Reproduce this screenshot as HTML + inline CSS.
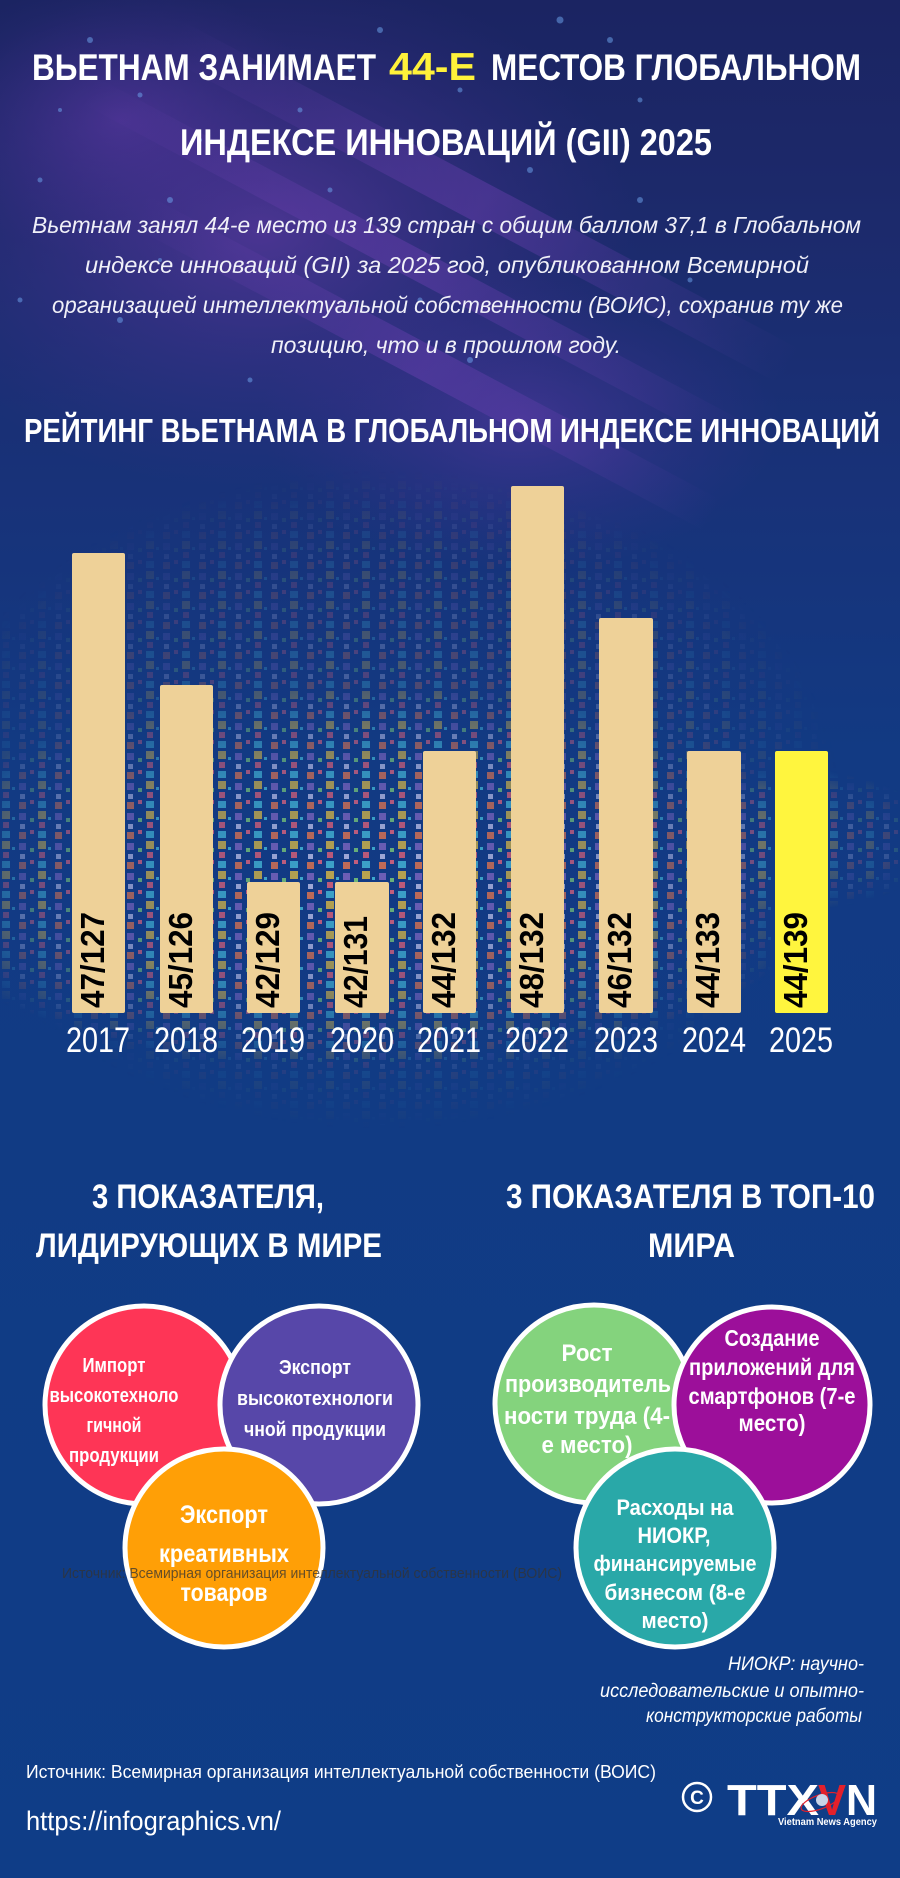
<!DOCTYPE html>
<html><head><meta charset="utf-8"><style>
html,body{margin:0;padding:0;background:#0f3d87;}
svg{display:block;}
text{font-family:"Liberation Sans","DejaVu Sans",sans-serif;}
</style></head><body>
<svg width="900" height="1878" viewBox="0 0 900 1878" xmlns="http://www.w3.org/2000/svg">
<defs>
<linearGradient id="bg" x1="0" y1="0" x2="0" y2="1">
<stop offset="0" stop-color="#1b2462"/>
<stop offset="0.12" stop-color="#1c2a6c"/>
<stop offset="0.26" stop-color="#183279"/>
<stop offset="0.4" stop-color="#123a83"/>
<stop offset="1" stop-color="#0f3d87"/>
</linearGradient>
<radialGradient id="purp" cx="0.5" cy="0.5" r="0.5">
<stop offset="0" stop-color="#7a40b8" stop-opacity="0.5"/>
<stop offset="0.6" stop-color="#5a35a0" stop-opacity="0.22"/>
<stop offset="1" stop-color="#4a2f95" stop-opacity="0"/>
</radialGradient>
<radialGradient id="purp2" cx="0.5" cy="0.5" r="0.5">
<stop offset="0" stop-color="#6a3bb0" stop-opacity="0.45"/>
<stop offset="1" stop-color="#4a2f95" stop-opacity="0"/>
</radialGradient>
<linearGradient id="streak" x1="0" y1="0" x2="1" y2="0">
<stop offset="0" stop-color="#7d45c0" stop-opacity="0"/>
<stop offset="0.5" stop-color="#7d45c0" stop-opacity="0.35"/>
<stop offset="1" stop-color="#7d45c0" stop-opacity="0"/>
</linearGradient>
<pattern id="dots" x="0" y="0" width="36" height="30" patternUnits="userSpaceOnUse">
<rect x="2" y="1" width="8" height="8" fill="#c0a84c"/>
<rect x="3" y="12" width="6" height="6" fill="#c85c78"/>
<rect x="2" y="21" width="8" height="7" fill="#3fa8cc"/>
<rect x="19" y="3" width="7" height="7" fill="#7260b8"/>
<rect x="20" y="14" width="5" height="5" fill="#a9b0dc"/>
<rect x="19" y="22" width="7" height="7" fill="#cc6e54"/>
<rect x="30" y="8" width="4" height="4" fill="#6fb878"/>
<rect x="30" y="20" width="4" height="4" fill="#d0607c"/>
<rect x="12" y="7" width="3" height="3" fill="#40b0d0"/>
</pattern>
<radialGradient id="dmaskg" cx="0.5" cy="0.5" r="0.5">
<stop offset="0" stop-color="#fff" stop-opacity="0.95"/>
<stop offset="0.6" stop-color="#fff" stop-opacity="0.6"/>
<stop offset="1" stop-color="#fff" stop-opacity="0"/>
</radialGradient>
<radialGradient id="dmaskg2" cx="0.5" cy="0.5" r="0.5">
<stop offset="0" stop-color="#fff" stop-opacity="0.45"/>
<stop offset="0.7" stop-color="#fff" stop-opacity="0.2"/>
<stop offset="1" stop-color="#fff" stop-opacity="0"/>
</radialGradient>
<mask id="dmask" maskUnits="userSpaceOnUse" x="0" y="0" width="900" height="1878">
<ellipse cx="380" cy="800" rx="460" ry="330" fill="url(#dmaskg2)"/>
<ellipse cx="360" cy="880" rx="470" ry="190" fill="url(#dmaskg)"/>
<ellipse cx="800" cy="840" rx="140" ry="70" fill="url(#dmaskg2)"/>
</mask>
</defs>

<rect x="0" y="0" width="900" height="1878" fill="url(#bg)"/>
<ellipse cx="260" cy="230" rx="380" ry="260" fill="url(#purp)"/>
<ellipse cx="520" cy="420" rx="260" ry="150" fill="url(#purp2)"/>
<ellipse cx="120" cy="120" rx="200" ry="140" fill="url(#purp2)"/>
<g transform="rotate(28 400 250)">
<rect x="100" y="150" width="700" height="40" fill="url(#streak)"/>
<rect x="50" y="240" width="750" height="30" fill="url(#streak)"/>
<rect x="150" y="320" width="650" height="35" fill="url(#streak)"/>
</g>
<!-- bokeh -->
<g fill="#6fa8f0" opacity="0.5">
<circle cx="90" cy="40" r="3"/><circle cx="140" cy="95" r="2.5"/><circle cx="230" cy="60" r="3"/>
<circle cx="300" cy="110" r="2.5"/><circle cx="380" cy="30" r="3"/><circle cx="460" cy="90" r="2.5"/>
<circle cx="560" cy="20" r="3.5"/><circle cx="610" cy="40" r="3"/><circle cx="640" cy="100" r="2.5"/>
<circle cx="40" cy="180" r="2.5"/><circle cx="170" cy="200" r="3"/><circle cx="330" cy="190" r="2.5"/>
<circle cx="530" cy="170" r="3"/><circle cx="590" cy="230" r="2.5"/><circle cx="640" cy="200" r="3"/>
<circle cx="20" cy="300" r="2.5"/><circle cx="120" cy="320" r="3"/><circle cx="420" cy="300" r="2.5"/>
<circle cx="690" cy="280" r="2.5"/><circle cx="250" cy="380" r="2.5"/><circle cx="470" cy="360" r="3"/>
<circle cx="60" cy="110" r="2"/><circle cx="200" cy="140" r="2"/><circle cx="350" cy="70" r="2"/>
<circle cx="500" cy="60" r="2"/><circle cx="270" cy="270" r="2"/><circle cx="160" cy="260" r="2"/>
<circle cx="80" cy="230" r="2"/><circle cx="400" cy="140" r="2"/><circle cx="560" cy="310" r="2"/>
</g>

<!-- pixel dots field -->
<rect x="0" y="440" width="900" height="720" fill="url(#dots)" mask="url(#dmask)"/>

<!-- Title -->
<g font-weight="bold" font-size="37">
<text x="32" y="80" fill="#ffffff" textLength="344" lengthAdjust="spacingAndGlyphs">ВЬЕТНАМ ЗАНИМАЕТ</text>
<text x="389" y="80" fill="#fff23a" textLength="87" lengthAdjust="spacingAndGlyphs" font-size="39">44-Е</text>
<text x="491" y="80" fill="#ffffff" textLength="370" lengthAdjust="spacingAndGlyphs">МЕСТОВ ГЛОБАЛЬНОМ</text>
<text x="180" y="155" fill="#ffffff" textLength="532" lengthAdjust="spacingAndGlyphs">ИНДЕКСЕ ИННОВАЦИЙ (GII) 2025</text>
</g>

<!-- Paragraph -->
<g font-style="italic" font-size="23" fill="#f0f0f8">
<text x="32" y="233" textLength="829" lengthAdjust="spacingAndGlyphs">Вьетнам занял 44-е место из 139 стран с общим баллом 37,1 в Глобальном</text>
<text x="85" y="273" textLength="724" lengthAdjust="spacingAndGlyphs">индексе инноваций (GII) за 2025 год, опубликованном Всемирной</text>
<text x="52" y="313" textLength="791" lengthAdjust="spacingAndGlyphs">организацией интеллектуальной собственности (ВОИС), сохранив ту же</text>
<text x="271" y="353" textLength="350" lengthAdjust="spacingAndGlyphs">позицию, что и в прошлом году.</text>
</g>

<!-- Chart heading -->
<text x="24" y="442" fill="#ffffff" font-weight="bold" font-size="33" textLength="856" lengthAdjust="spacingAndGlyphs">РЕЙТИНГ ВЬЕТНАМА В ГЛОБАЛЬНОМ ИНДЕКСЕ ИННОВАЦИЙ</text>

<!-- Bars -->
<g fill="#eed198">
<rect x="72" y="553" width="53" height="460" rx="2"/>
<rect x="160" y="685" width="53" height="328" rx="2"/>
<rect x="247" y="882" width="53" height="131" rx="2"/>
<rect x="335" y="882" width="54" height="131" rx="2"/>
<rect x="423" y="751" width="53" height="262" rx="2"/>
<rect x="511" y="486" width="53" height="527" rx="2"/>
<rect x="599" y="618" width="54" height="395" rx="2"/>
<rect x="687" y="751" width="54" height="262" rx="2"/>
</g>
<rect x="775" y="751" width="53" height="262" rx="2" fill="#fff53e"/>

<g font-weight="bold" font-size="33" fill="#000000">
<text transform="translate(104,1008) rotate(-90)" textLength="96" lengthAdjust="spacingAndGlyphs">47/127</text>
<text transform="translate(192,1008) rotate(-90)" textLength="96" lengthAdjust="spacingAndGlyphs">45/126</text>
<text transform="translate(279,1008) rotate(-90)" textLength="96" lengthAdjust="spacingAndGlyphs">42/129</text>
<text transform="translate(367,1008) rotate(-90)" textLength="92" lengthAdjust="spacingAndGlyphs">42/131</text>
<text transform="translate(455,1008) rotate(-90)" textLength="96" lengthAdjust="spacingAndGlyphs">44/132</text>
<text transform="translate(543,1008) rotate(-90)" textLength="96" lengthAdjust="spacingAndGlyphs">48/132</text>
<text transform="translate(631,1008) rotate(-90)" textLength="96" lengthAdjust="spacingAndGlyphs">46/132</text>
<text transform="translate(719,1008) rotate(-90)" textLength="96" lengthAdjust="spacingAndGlyphs">44/133</text>
<text transform="translate(807,1008) rotate(-90)" textLength="96" lengthAdjust="spacingAndGlyphs">44/139</text>
</g>

<g font-size="35" fill="#ffffff">
<text x="66" y="1052" textLength="64" lengthAdjust="spacingAndGlyphs">2017</text>
<text x="154" y="1052" textLength="64" lengthAdjust="spacingAndGlyphs">2018</text>
<text x="241" y="1052" textLength="64" lengthAdjust="spacingAndGlyphs">2019</text>
<text x="330" y="1052" textLength="64" lengthAdjust="spacingAndGlyphs">2020</text>
<text x="417" y="1052" textLength="64" lengthAdjust="spacingAndGlyphs">2021</text>
<text x="505" y="1052" textLength="64" lengthAdjust="spacingAndGlyphs">2022</text>
<text x="594" y="1052" textLength="64" lengthAdjust="spacingAndGlyphs">2023</text>
<text x="682" y="1052" textLength="64" lengthAdjust="spacingAndGlyphs">2024</text>
<text x="769" y="1052" textLength="64" lengthAdjust="spacingAndGlyphs">2025</text>
</g>

<!-- Section headings -->
<g font-weight="bold" font-size="34" fill="#ffffff">
<text x="92" y="1208" textLength="232" lengthAdjust="spacingAndGlyphs">3 ПОКАЗАТЕЛЯ,</text>
<text x="36" y="1257" textLength="346" lengthAdjust="spacingAndGlyphs">ЛИДИРУЮЩИХ В МИРЕ</text>
<text x="506" y="1208" textLength="369" lengthAdjust="spacingAndGlyphs">3 ПОКАЗАТЕЛЯ В ТОП-10</text>
<text x="648" y="1257" textLength="87" lengthAdjust="spacingAndGlyphs">МИРА</text>
</g>

<!-- Left circles -->
<circle cx="144" cy="1405" r="99" fill="#fe3556" stroke="#ffffff" stroke-width="5"/>
<g font-weight="bold" font-size="20" fill="#ffffff" text-anchor="middle">
<text x="114" y="1372" textLength="63" lengthAdjust="spacingAndGlyphs">Импорт</text>
<text x="114" y="1402" textLength="129" lengthAdjust="spacingAndGlyphs">высокотехноло</text>
<text x="114" y="1432" textLength="55" lengthAdjust="spacingAndGlyphs">гичной</text>
<text x="114" y="1462" textLength="90" lengthAdjust="spacingAndGlyphs">продукции</text>
</g>
<circle cx="319" cy="1405" r="99" fill="#5747a9" stroke="#ffffff" stroke-width="5"/>
<g font-weight="bold" font-size="20" fill="#ffffff" text-anchor="middle">
<text x="315" y="1374" textLength="72" lengthAdjust="spacingAndGlyphs">Экспорт</text>
<text x="315" y="1405" textLength="156" lengthAdjust="spacingAndGlyphs">высокотехнологи</text>
<text x="315" y="1436" textLength="142" lengthAdjust="spacingAndGlyphs">чной продукции</text>
</g>
<circle cx="224" cy="1548" r="99" fill="#ff9f06" stroke="#ffffff" stroke-width="5"/>
<g font-weight="bold" font-size="25" fill="#ffffff" text-anchor="middle">
<text x="224" y="1523" textLength="88" lengthAdjust="spacingAndGlyphs">Экспорт</text>
<text x="224" y="1562" textLength="130" lengthAdjust="spacingAndGlyphs">креативных</text>
<text x="224" y="1601" textLength="87" lengthAdjust="spacingAndGlyphs">товаров</text>
</g>

<!-- Right circles -->
<circle cx="594" cy="1404" r="99" fill="#84d37d" stroke="#ffffff" stroke-width="5"/>
<g font-weight="bold" font-size="24" fill="#ffffff" text-anchor="middle">
<text x="587" y="1361" textLength="51" lengthAdjust="spacingAndGlyphs">Рост</text>
<text x="588" y="1392" textLength="166" lengthAdjust="spacingAndGlyphs">производитель</text>
<text x="587" y="1424" textLength="166" lengthAdjust="spacingAndGlyphs">ности труда (4-</text>
<text x="587" y="1453" textLength="91" lengthAdjust="spacingAndGlyphs">е место)</text>
</g>
<circle cx="772" cy="1405" r="98" fill="#9c0f9a" stroke="#ffffff" stroke-width="5"/>
<g font-weight="bold" font-size="23" fill="#ffffff" text-anchor="middle">
<text x="772" y="1346" textLength="95" lengthAdjust="spacingAndGlyphs">Создание</text>
<text x="772" y="1375" textLength="166" lengthAdjust="spacingAndGlyphs">приложений для</text>
<text x="772" y="1404" textLength="167" lengthAdjust="spacingAndGlyphs">смартфонов (7-е</text>
<text x="772" y="1431" textLength="67" lengthAdjust="spacingAndGlyphs">место)</text>
</g>
<circle cx="675" cy="1548" r="99" fill="#29a8a8" stroke="#ffffff" stroke-width="5"/>
<g font-weight="bold" font-size="22" fill="#ffffff" text-anchor="middle">
<text x="675" y="1515" textLength="117" lengthAdjust="spacingAndGlyphs">Расходы на</text>
<text x="674" y="1543" textLength="73" lengthAdjust="spacingAndGlyphs">НИОКР,</text>
<text x="675" y="1571" textLength="163" lengthAdjust="spacingAndGlyphs">финансируемые</text>
<text x="675" y="1600" textLength="141" lengthAdjust="spacingAndGlyphs">бизнесом (8-е</text>
<text x="675" y="1628" textLength="67" lengthAdjust="spacingAndGlyphs">место)</text>
</g>

<text x="62" y="1578" font-size="15" fill="#333333" opacity="0.75" textLength="500" lengthAdjust="spacingAndGlyphs">Источник: Всемирная организация интеллектуальной собственности (ВОИС)</text>

<!-- Footnote -->
<g font-style="italic" font-size="19" fill="#ffffff" text-anchor="end">
<text x="864" y="1670" textLength="136" lengthAdjust="spacingAndGlyphs">НИОКР: научно-</text>
<text x="864" y="1697" textLength="264" lengthAdjust="spacingAndGlyphs">исследовательские и опытно-</text>
<text x="862" y="1722" textLength="216" lengthAdjust="spacingAndGlyphs">конструкторские работы</text>
</g>

<!-- Source and URL -->
<text x="26" y="1778" font-size="18" fill="#ffffff" textLength="630" lengthAdjust="spacingAndGlyphs">Источник: Всемирная организация интеллектуальной собственности (ВОИС)</text>
<text x="26" y="1830" font-size="27" fill="#ffffff" textLength="255" lengthAdjust="spacingAndGlyphs">https://infographics.vn/</text>

<!-- Logo -->
<circle cx="697" cy="1797" r="14" fill="none" stroke="#ffffff" stroke-width="2.5"/>
<text x="697" y="1804" font-size="19" font-weight="bold" fill="#ffffff" text-anchor="middle">C</text>
<g font-weight="bold" font-size="44" fill="#ffffff">
<text x="727" y="1815" textLength="92" lengthAdjust="spacingAndGlyphs">TTX</text>
<text x="818" y="1815" fill="#e3202b" textLength="28" lengthAdjust="spacingAndGlyphs">V</text>
<text x="846" y="1815" textLength="31" lengthAdjust="spacingAndGlyphs">N</text>
</g>
<ellipse cx="820" cy="1802" rx="20" ry="7" fill="none" stroke="#e3202b" stroke-width="1.2" transform="rotate(-20 820 1802)"/>
<circle cx="822" cy="1800" r="6" fill="#c8d4e8"/>
<text x="778" y="1825" font-size="10" font-weight="bold" fill="#ffffff" textLength="99" lengthAdjust="spacingAndGlyphs">Vietnam News Agency</text>
</svg>
</body></html>
